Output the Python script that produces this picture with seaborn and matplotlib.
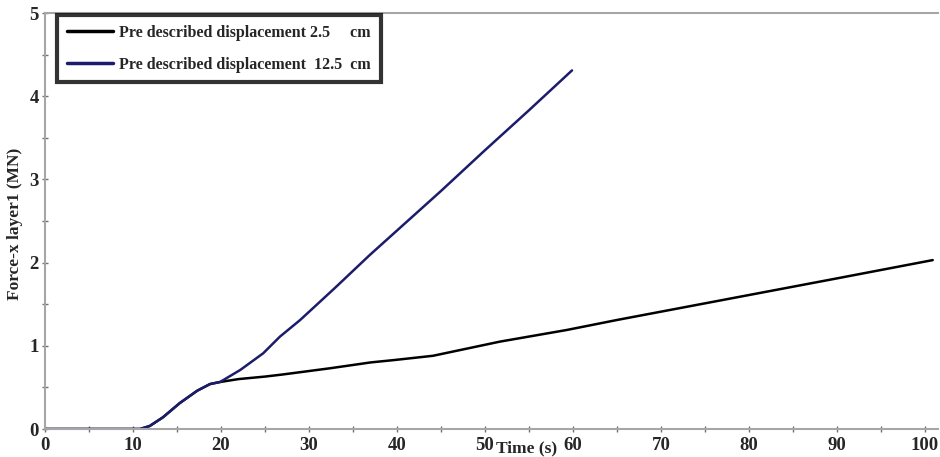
import matplotlib
matplotlib.use("Agg")
import matplotlib.pyplot as plt
from matplotlib.ticker import MultipleLocator
import seaborn as sns
import pandas as pd

# Force response of layer 1 for two prescribed displacements
time_small = [0, 5, 10, 10.8, 11.9, 13.4, 15.3, 17.3, 18.75, 19.9, 22, 25, 27, 32.4,
              37, 39.8, 44.1, 51.7, 59.3, 65, 70, 80, 90, 100.9]
force_small = [0, 0, 0, 0, 0.036, 0.14, 0.31, 0.46, 0.54, 0.565, 0.6, 0.63, 0.655, 0.73,
               0.8, 0.83, 0.88, 1.05, 1.19, 1.31, 1.41, 1.61, 1.81, 2.03]

time_large = [0, 5, 10, 10.8, 11.9, 13.4, 15.3, 17.3, 18.75, 19.9, 22.2, 24.8, 26.7, 29,
              33, 36.9, 45, 50, 55, 59.9]
force_large = [0, 0, 0, 0, 0.036, 0.14, 0.31, 0.46, 0.54, 0.565, 0.71, 0.91, 1.11, 1.31,
               1.70, 2.09, 2.86, 3.35, 3.83, 4.31]

label_small = "Pre described displacement 2.5     cm"
label_large = "Pre described displacement  12.5  cm"

df = pd.concat([
    pd.DataFrame({"time": time_small, "force": force_small, "case": label_small}),
    pd.DataFrame({"time": time_large, "force": force_large, "case": label_large}),
])

sns.set_style("white")
plt.rcParams["font.family"] = ["Liberation Serif", "DejaVu Serif"]
plt.rcParams["font.weight"] = "bold"

fig = plt.figure(figsize=(9.4, 4.57), dpi=100)
ax = fig.add_axes([45 / 940, 28 / 457, (938 - 45) / 940, (429 - 13) / 457])

sns.lineplot(data=df, x="time", y="force", hue="case",
             palette={label_small: "#000000", label_large: "#1c1c6b"},
             linewidth=1.8, ax=ax, sort=False)

ax.set_xlim(0, 101.5)
ax.set_ylim(0, 5)
ax.xaxis.set_major_locator(MultipleLocator(10))
ax.xaxis.set_minor_locator(MultipleLocator(5))
ax.yaxis.set_major_locator(MultipleLocator(1))
ax.yaxis.set_minor_locator(MultipleLocator(0.5))
ax.tick_params(which="both", direction="inout", length=5, width=1, color="#707070",
               labelsize=13.5, pad=3)
ax.tick_params(axis="x", which="both", bottom=True)
ax.tick_params(axis="y", which="both", left=True, pad=2)
for lbl in ax.get_xticklabels() + ax.get_yticklabels():
    lbl.set_fontweight("bold")

for side in ["left", "bottom", "top"]:
    ax.spines[side].set_visible(True)
    ax.spines[side].set_color("#a6a6a6")
    ax.spines[side].set_linewidth(1.5)
ax.spines["right"].set_visible(False)

ax.set_xlabel("")
ax.set_ylabel("")
fig.text(15 / 940, 1 - 224 / 457, "Force-x layer1 (MN)", rotation=90,
         ha="center", va="center", fontsize=12.5, fontweight="bold")
fig.text(527 / 940, 1 - 448 / 457, "Time (s)", ha="center", va="center",
         fontsize=12.5, fontweight="bold")

leg = ax.legend(loc="upper left", bbox_to_anchor=(57 / 940, 1 - 15 / 457),
                bbox_transform=fig.transFigure, borderaxespad=0, frameon=True,
                fancybox=False, edgecolor="black", handlelength=2.9, handletextpad=0.4,
                labelspacing=1.0, borderpad=0.6, prop={"weight": "bold", "size": 11.5})
leg.get_frame().set_linewidth(3)
for line in leg.get_lines():
    line.set_linewidth(2.5)

fig.savefig("out.png", dpi=100)
